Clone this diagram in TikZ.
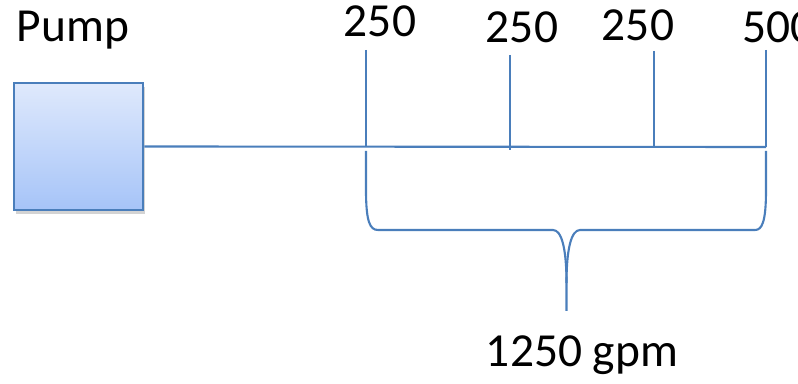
\documentclass[tikz,border=0pt]{standalone}
\usepackage{fontspec}
\setmainfont{Carlito}
\usetikzlibrary{shadows}

\definecolor{pipeblue}{HTML}{4A7EBB}
\definecolor{pumptop}{HTML}{DFE9FC}
\definecolor{pumpbot}{HTML}{A6C4F8}

\tikzset{
  pipe/.style={draw=pipeblue, line width=1.2pt},
  flow/.style={font=\fontsize{27}{32}\selectfont, anchor=base, inner sep=0pt},
  pumpbox/.style={draw=pipeblue, line width=1.6pt, top color=pumptop, bottom color=pumpbot,
    minimum width=129*0.02cm, minimum height=127*0.02cm, inner sep=0pt,
    drop shadow={shadow xshift=1pt, shadow yshift=-2pt, opacity=0.35}}
}

\begin{document}
\begin{tikzpicture}[x=0.02cm, y=-0.02cm]
        \useasboundingbox (0,0) rectangle (798,384);

        \node [pumpbox] (pump) at (78.5,146.5) {};
        \node [flow] (pumplabel) at (73,42) {Pump};

        % line and take-offs
        \coordinate (end) at (766,147);
        \coordinate (t1) at (366,50);
        \coordinate (t2) at (510,55);
        \coordinate (t3) at (654,51);
        \coordinate (t4) at (766,50);
        \draw [pipe] (pump.east) -- (end);
        \draw [pipe] (t1) -- (t1 |- end);
        \draw [pipe] (t2) -- ([yshift=-3*0.02cm]t2 |- end);
        \draw [pipe] (t3) -- (t3 |- end);
        \draw [pipe] (t4) -- (end);

        \node [flow] (q1) at (380,37) {250};
        \node [flow] (q2) at (522,43) {250};
        \node [flow] (q3) at (638,41) {250};
        \node [flow, anchor=base west] (q4) at (742,43) {500};

        % brace
        \coordinate (bl) at (366,151);
        \coordinate (br) at (766,151);
        \coordinate (tip) at (566.5,311);
        \draw [pipe] (bl) -- (366,190) .. controls (366,222) and (370,230) .. (378,230)
          -- (553,230) .. controls (562,230) and (566.5,250) .. (566.5,283) -- (tip);
        \draw [pipe] (br) -- (766,190) .. controls (766,222) and (762,230) .. (755,230)
          -- (580,230) .. controls (571,230) and (566.5,250) .. (566.5,283);

        \node [flow] (total) at (582,367) {1250 gpm};
\end{tikzpicture}
\end{document}
